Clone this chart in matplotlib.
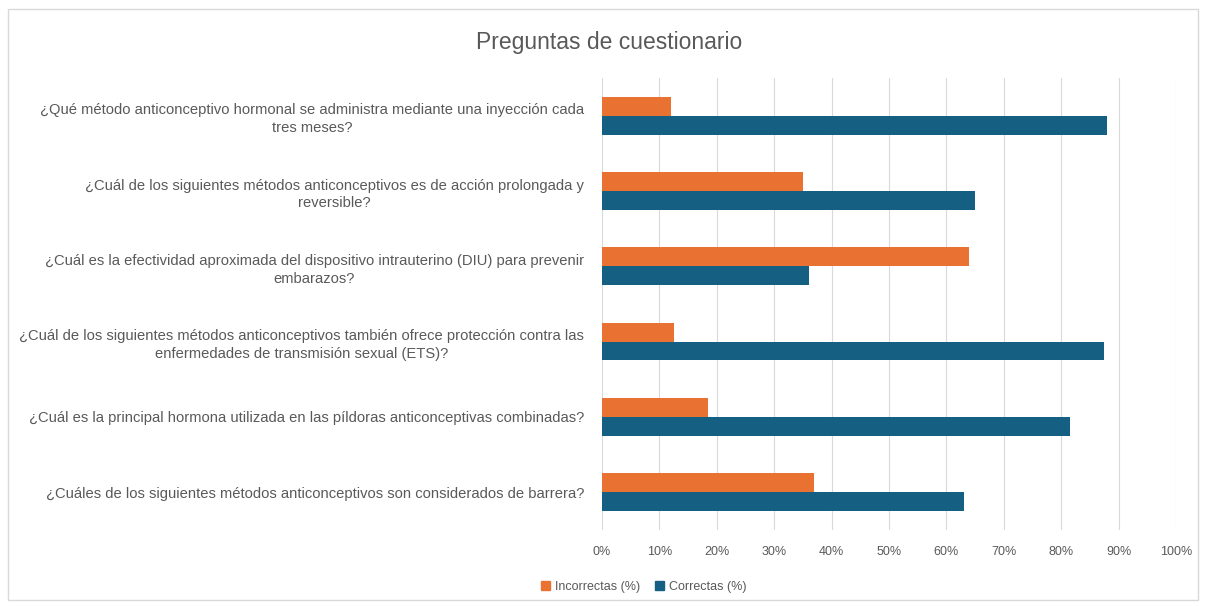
import matplotlib.pyplot as plt
import matplotlib.patches as mpatches
import numpy as np

# questions, top to bottom as shown
preguntas = [
    '¿Qué método anticonceptivo hormonal se administra mediante una inyección cada\ntres meses?',
    '¿Cuál de los siguientes métodos anticonceptivos es de acción prolongada y\nreversible?',
    '¿Cuál es la efectividad aproximada del dispositivo intrauterino (DIU) para prevenir\nembarazos?',
    '¿Cuál de los siguientes métodos anticonceptivos también ofrece protección contra las\nenfermedades de transmisión sexual (ETS)?',
    '¿Cuál es la principal hormona utilizada en las píldoras anticonceptivas combinadas?',
    '¿Cuáles de los siguientes métodos anticonceptivos son considerados de barrera?',
]
incorrectas = [12, 35, 64, 12.5, 18.5, 37]
correctas = [88, 65, 36, 87.5, 81.5, 63]

c_inc = '#E97132'
c_cor = '#156082'
txt = '#595959'

plt.rcParams['font.family'] = ['Liberation Sans', 'DejaVu Sans']

fig = plt.figure(figsize=(12.06, 6.06), dpi=100)
ax = fig.add_axes([0.4992, 0.126, 0.4759, 0.745])

y = np.arange(len(preguntas))
h = 0.25
ax.barh(y - h / 2, incorrectas, height=h, color=c_inc, label='Incorrectas (%)', zorder=3)
ax.barh(y + h / 2, correctas, height=h, color=c_cor, label='Correctas (%)', zorder=3)

ax.set_ylim(len(preguntas) - 0.5, -0.5)
ax.set_xlim(0, 100)
ax.set_xticks(np.arange(0, 101, 10))
ax.set_xticklabels([f'{v}%' for v in range(0, 101, 10)], color=txt, fontsize=9)
ax.set_yticks(y)
ax.set_yticklabels(preguntas, color=txt, fontsize=10.6, multialignment='center',
                   linespacing=1.35)
ax.tick_params(axis='x', length=0, pad=12)
ax.tick_params(axis='y', length=0, pad=13)
ax.grid(axis='x', color='#d9d9d9', linewidth=0.8, zorder=0)
for s in ax.spines.values():
    s.set_visible(False)

fig.text(0.505, 0.93, 'Preguntas de cuestionario', ha='center', va='center',
         fontsize=16.5, color=txt)

handles = [mpatches.Patch(color=c_inc, label='Incorrectas (%)'),
           mpatches.Patch(color=c_cor, label='Correctas (%)')]
fig.legend(handles=handles, loc='center', bbox_to_anchor=(0.534, 0.031), ncol=2,
           frameon=False, fontsize=9, handlelength=0.7, handleheight=0.7,
           handletextpad=0.4, columnspacing=1.2, labelcolor=txt)

fig.patches.append(mpatches.Rectangle((0.007, 0.01), 0.986, 0.975, transform=fig.transFigure,
                                      fill=False, edgecolor='#d9d9d9', linewidth=1))

fig.savefig('out.png', dpi=100, facecolor='white')
